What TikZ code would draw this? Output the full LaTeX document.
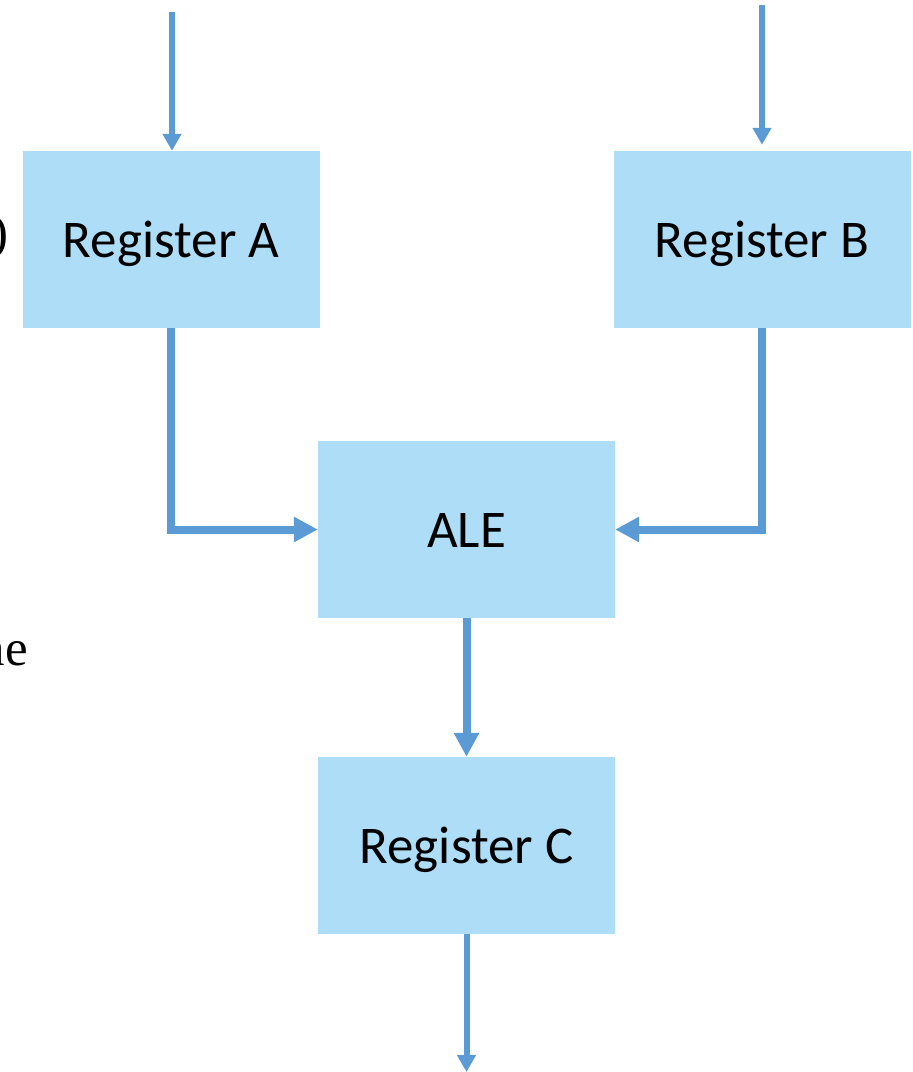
\documentclass[tikz,border=0pt]{standalone}
\usepackage{fontspec}
\setmainfont{Carlito}
\newfontfamily\bookfont{Liberation Serif}
\usetikzlibrary{arrows.meta}
\definecolor{boxfill}{HTML}{ADDDF7}
\definecolor{wire}{HTML}{5B9BD5}
\tikzset{
  regbox/.style={fill=boxfill, draw=none, inner sep=0pt,
    minimum width=297pt, minimum height=177pt,
    text height=36pt, text depth=0pt,
    font=\fontsize{53}{60}\selectfont},
  thinwire/.style={draw=wire, line width=6pt,
    -{Triangle[length=17pt,width=18pt]}},
  thickwire/.style={draw=wire, line width=8pt,
    -{Triangle[length=24pt,width=24pt]}},
  pagetext/.style={inner sep=0pt, font=\bookfont\fontsize{51}{60}\selectfont}
}
\begin{document}
\begin{tikzpicture}[x=1pt,y=-1pt]
  \useasboundingbox (0,0) rectangle (913,1072);
  \clip (0,0) rectangle (913,1072);

  % fragments of the surrounding page text
  \node[pagetext, anchor=base east] (par) at (9,249) {)};
  \node[pagetext, anchor=base east] (frag) at (28,665) {ne};

  % registers and the arithmetic unit
  \node[regbox] (regA) at (171,239.5) {Register A};
  \node[regbox] (regB) at (762,239.5) {Register B};
  \node[regbox] (ale)  at (466.5,529.5) {ALE};
  \node[regbox] (regC) at (466.5,845.5) {Register C};

  % free ends of the inputs and the output
  \coordinate (inA) at (172,12);
  \coordinate (inB) at (762,5);
  \coordinate (outC) at (466.5,1072);

  % data paths
  \draw[thinwire] (inA) -- (inA |- regA.north);
  \draw[thinwire, shorten >=6pt] (inB) -- (inB |- regB.north);
  \draw[thickwire] (regA.south) |- (ale.west);
  \draw[thickwire] (regB.south) |- (ale.east);
  \draw[thickwire] (ale.south) -- (regC.north);
  \draw[thinwire] (regC.south) -- (outC);
\end{tikzpicture}
\end{document}
